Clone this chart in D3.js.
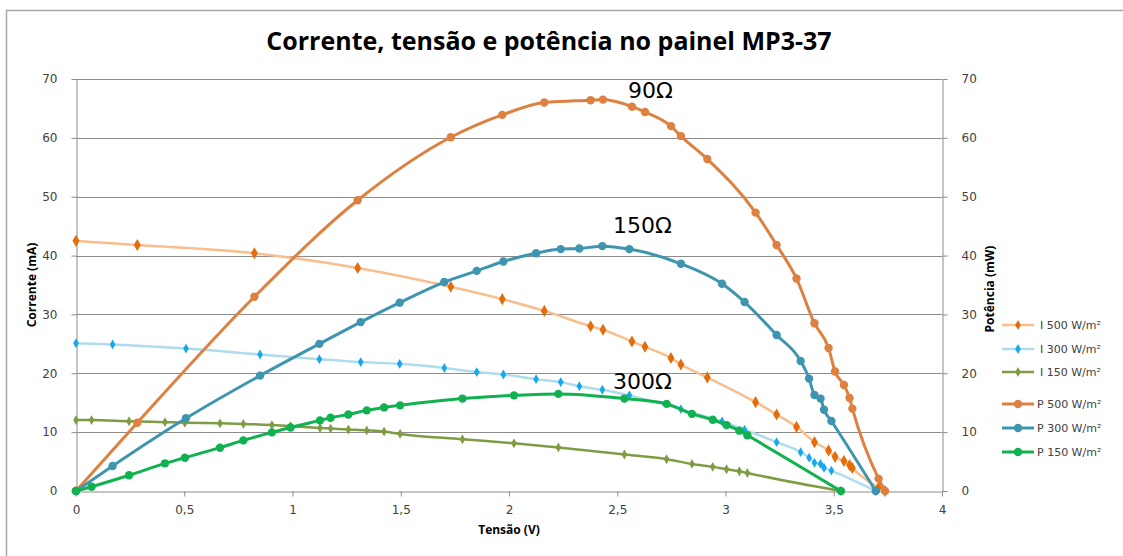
<!DOCTYPE html>
<html>
<head>
<meta charset="utf-8">
<script src="https://cdn.jsdelivr.net/npm/d3@7"></script>
<style>
  html, body { margin: 0; padding: 0; background: #fff; }
  svg { display: block; font-family: "Open Sans", "DejaVu Sans", sans-serif; }
</style>
</head>
<body>
<div id="chart"></div>
<script>
// Curvas I-V e P-V do painel MP3-37 para três irradiâncias.

const V500 = [0, 0.283, 0.824, 1.301, 1.731, 1.969, 2.163, 2.377, 2.434, 2.568, 2.628, 2.748, 2.794, 2.916, 3.139, 3.236, 3.328, 3.411, 3.476, 3.506, 3.547, 3.573, 3.586, 3.707, 3.737];
const I500 = [42.5, 41.8, 40.4, 37.9, 34.7, 32.6, 30.6, 28.0, 27.4, 25.4, 24.5, 22.6, 21.5, 19.3, 15.1, 13.0, 10.9, 8.3, 6.9, 5.8, 5.1, 4.4, 3.9, 0.6, 0];
const P500 = [0, 11.6, 33.0, 49.4, 60.1, 63.9, 66.0, 66.4, 66.5, 65.3, 64.4, 62.0, 60.3, 56.4, 47.3, 41.8, 36.1, 28.5, 24.3, 20.3, 18.0, 15.8, 14.0, 2.1, 0];

const V300 = [0, 0.169, 0.508, 0.850, 1.124, 1.315, 1.495, 1.701, 1.851, 1.974, 2.125, 2.239, 2.325, 2.431, 2.556, 2.794, 2.984, 3.088, 3.236, 3.347, 3.386, 3.411, 3.439, 3.455, 3.489, 3.694];
const I300 = [25.1, 24.9, 24.2, 23.2, 22.4, 21.9, 21.6, 20.9, 20.2, 19.8, 19.0, 18.5, 17.8, 17.2, 16.25, 13.9, 11.8, 10.4, 8.3, 6.6, 5.66, 4.8, 4.6, 3.95, 3.45, 0];
const P300 = [0, 4.25, 12.35, 19.6, 25.0, 28.7, 32.0, 35.5, 37.4, 39.0, 40.4, 41.1, 41.2, 41.6, 41.1, 38.6, 35.2, 32.1, 26.5, 22.1, 19.1, 16.3, 15.7, 13.8, 11.9, 0];

const V150 = [0, 0.072, 0.245, 0.411, 0.503, 0.665, 0.773, 0.905, 0.991, 1.127, 1.176, 1.258, 1.343, 1.423, 1.497, 1.785, 2.023, 2.228, 2.533, 2.728, 2.845, 2.941, 3.005, 3.064, 3.101, 3.533];
const I150 = [12.05, 12.05, 11.85, 11.7, 11.6, 11.5, 11.4, 11.2, 11.0, 10.7, 10.6, 10.45, 10.3, 10.1, 9.7, 8.8, 8.1, 7.4, 6.2, 5.4, 4.6, 4.1, 3.7, 3.35, 3.05, 0];
const P150 = [0, 0.73, 2.67, 4.7, 5.66, 7.36, 8.6, 9.96, 10.8, 12.0, 12.45, 13.0, 13.7, 14.2, 14.55, 15.7, 16.25, 16.5, 15.7, 14.8, 13.1, 12.1, 11.2, 10.25, 9.46, 0];

const X_TICKS = [0, 0.5, 1, 1.5, 2, 2.5, 3, 3.5, 4];
const Y_TICKS = [0, 10, 20, 30, 40, 50, 60, 70];

const SERIES = [
  { name: 'I 500 W/m²', v: V500, y: I500, kind: 'I', line: '#F9BE8E', mark: '#E46C0A' },
  { name: 'I 300 W/m²', v: V300, y: I300, kind: 'I', line: '#AFDCEA', mark: '#15A8EC' },
  { name: 'I 150 W/m²', v: V150, y: I150, kind: 'I', line: '#7F9C45', mark: '#7F9C45' },
  { name: 'P 500 W/m²', v: V500, y: P500, kind: 'P', line: '#DE8040', mark: '#DE8040' },
  { name: 'P 300 W/m²', v: V300, y: P300, kind: 'P', line: '#3E95AF', mark: '#3E95AF' },
  { name: 'P 150 W/m²', v: V150, y: P150, kind: 'P', line: '#10B14F', mark: '#10B14F' }
];

const LABELS = [
  { text: '90Ω',  v: 2.55, y: 66.8 },
  { text: '150Ω', v: 2.48, y: 43.8 },
  { text: '300Ω', v: 2.48, y: 17.3 }
];

const W = 1123, H = 556;
const M = { left: 76, right: 942, top: 79, bottom: 491 };

const svg = d3.select('#chart').append('svg').attr('width', W).attr('height', H);

// moldura do gráfico
svg.append('rect').attr('x', 6.5).attr('y', 10.5).attr('width', 1130).attr('height', 560)
  .attr('fill', 'none').attr('stroke', '#a6a6a6').attr('stroke-width', 1.5);

const x  = d3.scaleLinear().domain([0, 4]).range([M.left, M.right]);
const yL = d3.scaleLinear().domain([0, 70]).range([M.bottom, M.top]);
const yR = d3.scaleLinear().domain([0, 70]).range([M.bottom, M.top]);

// grade horizontal
svg.append('g').selectAll('line').data(Y_TICKS.slice(1)).enter().append('line')
  .attr('x1', M.left).attr('x2', M.right)
  .attr('y1', d => Math.round(yL(d)) + 0.5).attr('y2', d => Math.round(yL(d)) + 0.5)
  .attr('stroke', '#8c8c8c').attr('stroke-width', 1);

// eixos
const axStyle = g => {
  g.selectAll('.domain').attr('stroke', '#8c8c8c');
  g.selectAll('.tick line').attr('stroke', '#8c8c8c');
  g.selectAll('text').attr('fill', '#404040').style('font-size', '12px')
    .style('font-family', '"DejaVu Sans", sans-serif');
};
svg.append('g').attr('transform', `translate(0,${M.bottom + 0.5})`)
  .call(d3.axisBottom(x).tickValues(X_TICKS).tickSize(5).tickSizeOuter(0)
    .tickFormat(d => d3.format('~g')(d).replace('.', ',')))
  .call(axStyle).call(g => g.selectAll('text').attr('dy', '1.2em'));
svg.append('g').attr('transform', `translate(${M.left + 0.5},0)`)
  .call(d3.axisLeft(yL).tickValues(Y_TICKS).tickSize(5).tickSizeOuter(0).tickPadding(14))
  .call(axStyle);
svg.append('g').attr('transform', `translate(${M.right + 0.5},0)`)
  .call(d3.axisRight(yR).tickValues(Y_TICKS).tickSize(5).tickSizeOuter(0).tickPadding(14))
  .call(axStyle);

// títulos
svg.append('text').attr('x', 549).attr('y', 50).attr('text-anchor', 'middle')
  .style('font-size', '25px').style('font-weight', 700).attr('fill', '#000')
  .text('Corrente, tensão e potência no painel MP3-37');
svg.append('text').attr('x', 509).attr('y', 534).attr('text-anchor', 'middle')
  .style('font-size', '12px').style('font-weight', 700).attr('fill', '#000')
  .text('Tensão (V)');
svg.append('text').attr('transform', `translate(36,${(M.top + M.bottom) / 2}) rotate(-90)`)
  .attr('text-anchor', 'middle').style('font-size', '12px').style('font-weight', 700)
  .text('Corrente (mA)');
svg.append('text').attr('transform', `translate(994,${289}) rotate(-90)`)
  .attr('text-anchor', 'middle').style('font-size', '12px').style('font-weight', 700)
  .text('Potência (mW)');

// séries
const line = d3.line().curve(d3.curveMonotoneX);
const diamond = d3.symbol().type(d3.symbolDiamond);

SERIES.forEach(s => {
  const ys = s.kind === 'I' ? yL : yR;
  const pts = s.v.map((v, i) => [x(v), ys(s.y[i])]);
  const g = svg.append('g');
  g.append('path').attr('d', line(pts)).attr('fill', 'none')
    .attr('stroke', s.line).attr('stroke-width', s.kind === 'I' ? 2.5 : 3)
    .attr('stroke-linejoin', 'round');
  if (s.kind === 'P') {
    g.selectAll('circle').data(pts).enter().append('circle')
      .attr('cx', d => d[0]).attr('cy', d => d[1]).attr('r', 4.2).attr('fill', s.mark);
  } else {
    g.selectAll('path.m').data(pts).enter().append('path').attr('class', 'm')
      .attr('transform', d => `translate(${d[0]},${d[1]})`)
      .attr('d', diamond.size(s.name.startsWith('I 500') ? 42 : 28)()).attr('fill', s.mark);
  }
});

// rótulos de carga
svg.append('g').selectAll('text').data(LABELS).enter().append('text')
  .attr('x', d => x(d.v)).attr('y', d => yR(d.y))
  .style('font-size', '22px').style('font-family', '"DejaVu Sans", sans-serif')
  .attr('fill', '#000').text(d => d.text);

// legenda
const leg = svg.append('g').attr('transform', 'translate(1002,325)');
const rowY = [0, 24, 47, 79, 103, 127];
SERIES.forEach((s, i) => {
  const g = leg.append('g').attr('transform', `translate(0,${rowY[i]})`);
  g.append('line').attr('x1', 0).attr('x2', 32).attr('stroke', s.line)
    .attr('stroke-width', s.kind === 'I' ? 2.5 : 3);
  if (s.kind === 'P') g.append('circle').attr('cx', 16).attr('r', 4.2).attr('fill', s.mark);
  else g.append('path').attr('transform', 'translate(16,0)')
    .attr('d', diamond.size(28)()).attr('fill', s.mark);
  g.append('text').attr('x', s.kind === 'I' ? 38 : 35).attr('y', 4)
    .style('font-size', '11px').style('font-family', '"DejaVu Sans", sans-serif')
    .attr('fill', '#404040').text(s.name);
});
</script>
</body>
</html>
